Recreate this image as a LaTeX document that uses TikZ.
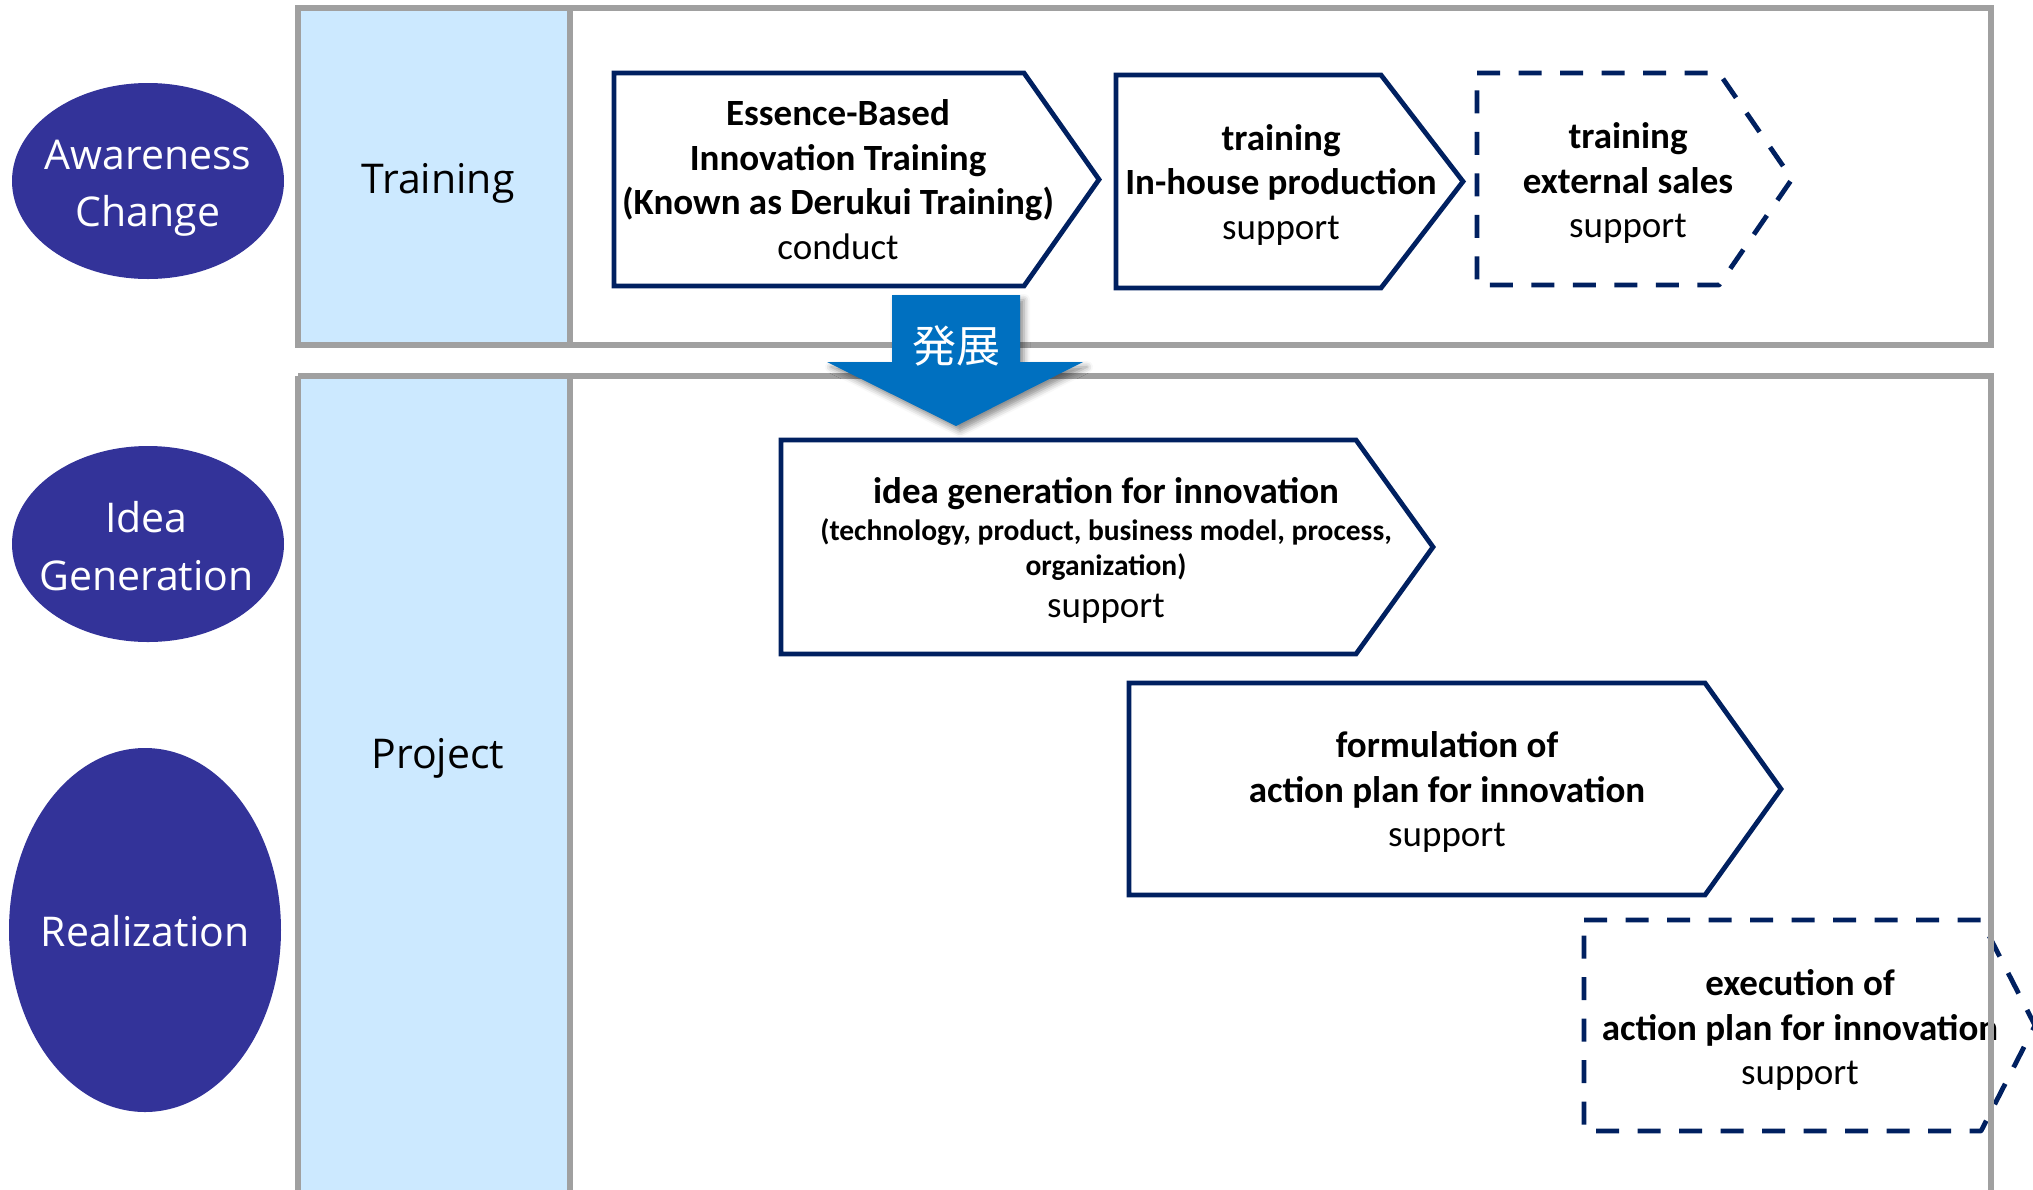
\documentclass[tikz,border=0pt]{standalone}
\usepackage{fontspec}
\setmainfont{Carlito}
\newfontfamily\labelfont{Open Sans}
\newfontfamily\cjk{Noto Sans CJK JP}
\usetikzlibrary{shapes.geometric,shadows.blur}

\definecolor{phasefill}{RGB}{51,51,153}
\definecolor{lanefill}{RGB}{204,233,255}
\definecolor{lanegray}{RGB}{160,160,160}
\definecolor{platenavy}{RGB}{0,32,96}
\definecolor{arrowblue}{RGB}{0,112,192}

\tikzset{
  phase/.style={ellipse, fill=phasefill, draw=none, inner sep=0pt},
  phasetext/.style={text=white, align=center, inner sep=0pt,
    font=\labelfont\fontsize{41}{57.5}\selectfont},
  lanetext/.style={text=black, inner sep=0pt,
    font=\labelfont\fontsize{41}{48}\selectfont},
  lanebg/.style={fill=lanefill, draw=none},
  laneframe/.style={draw=lanegray, line width=5.5pt},
  plate/.style={draw=platenavy, fill=white, line width=4.8pt},
  plateopen/.style={plate, dash pattern=on 23pt off 18.5pt, line join=round},
  platetext/.style={align=center, inner sep=0pt, text=black,
    font=\fontsize{37}{44.5}\selectfont},
  devarrow/.style={fill=arrowblue, draw=none,
    blur shadow={shadow xshift=4pt, shadow yshift=-5pt,
      shadow blur radius=6pt, shadow opacity=45}},
}

% home-plate outline: style, left x, top y, corner x, tip x, bottom y
\newcommand\plateshape[6]{%
  \draw[#1] (#2,#3) -- (#4,#3) -- (#5,{(#3+#6)/2}) -- (#4,#6) -- (#2,#6) -- cycle;}

\begin{document}
\begin{tikzpicture}[x=1pt, y=-1pt]
\useasboundingbox (0,0) rectangle (2033,1189);
\clip (0,0) rectangle (2033,1189);

% lane header columns
\fill[lanebg] (298,8) rectangle (570,345);
\fill[lanebg] (298,376) rectangle (570,1230);

% phase ellipses
\node[phase, minimum width=272pt, minimum height=196pt] (aware) at (148,181) {};
\node[phasetext] (awaretxt) at (148,188) {Awareness\\Change};
\node[phase, minimum width=272pt, minimum height=196pt] (idea) at (148,544) {};
\node[phasetext] (ideatxt) at (146.5,546) {Idea\\Generation};
\node[phase, minimum width=272pt, minimum height=364pt] (real) at (145,930) {};
\node[phasetext] (realtxt) at (145,931) {Realization};

% lane titles
\node[lanetext] (lanetrain) at (438,183) {Training};
\node[lanetext] (laneproj) at (438,758) {Project};

% training lane plates
\plateshape{plate}{614}{73}{1024}{1099}{286}
\node[platetext] (essence) at (838,179.5)
  {\textbf{Essence-Based}\\\textbf{Innovation Training}\\\textbf{(Known as Derukui Training)}\\conduct};

\plateshape{plate}{1116}{75}{1381}{1463}{288}
\node[platetext] (inhouse) at (1281,184.5)
  {\textbf{training}\\\textbf{In-house production}\\support};

\plateshape{plateopen}{1477}{73}{1719}{1792}{285}
\node[platetext] (external) at (1628,183)
  {\textbf{training}\\\textbf{external sales}\\support};

% project lane plates
\plateshape{plate}{781}{440}{1356}{1433}{654}
\node[platetext] (ideagen) at (1106,550.5)
  {\textbf{idea generation for innovation}\\[-7pt]
   {\fontsize{29.5}{33}\selectfont\textbf{(technology, product, business model, process,}}\\[-9.5pt]
   {\fontsize{29.5}{33}\selectfont\textbf{organization)}}\\[-2.5pt]
   support};

\plateshape{plate}{1129}{683}{1705}{1781}{895}
\node[platetext] (formul) at (1447,792)
  {\textbf{formulation of}\\\textbf{action plan for innovation}\\support};

\plateshape{plateopen}{1584}{920}{1981}{2035}{1131}
\node[platetext] (execut) at (1800,1030)
  {\textbf{execution of}\\\textbf{action plan for innovation}\\support};

% lane frames
\draw[laneframe] (298,8) rectangle (1991,345);
\draw[laneframe] (570,8) -- (570,345);
\draw[laneframe] (298,376) -- (298,1230);
\draw[laneframe] (298,376) -- (1991,376) -- (1991,1230);
\draw[laneframe] (570,376) -- (570,1230);

% development arrow between lanes
\path[devarrow] (892,295) -- (1020,295) -- (1020,362) -- (1083,362)
  -- (956,426) -- (827,362) -- (892,362) -- cycle;
\node[text=white, inner sep=0pt, font=\cjk\fontsize{44}{50}\selectfont]
  (devlabel) at (956,346) {発展};

\end{tikzpicture}
\end{document}
